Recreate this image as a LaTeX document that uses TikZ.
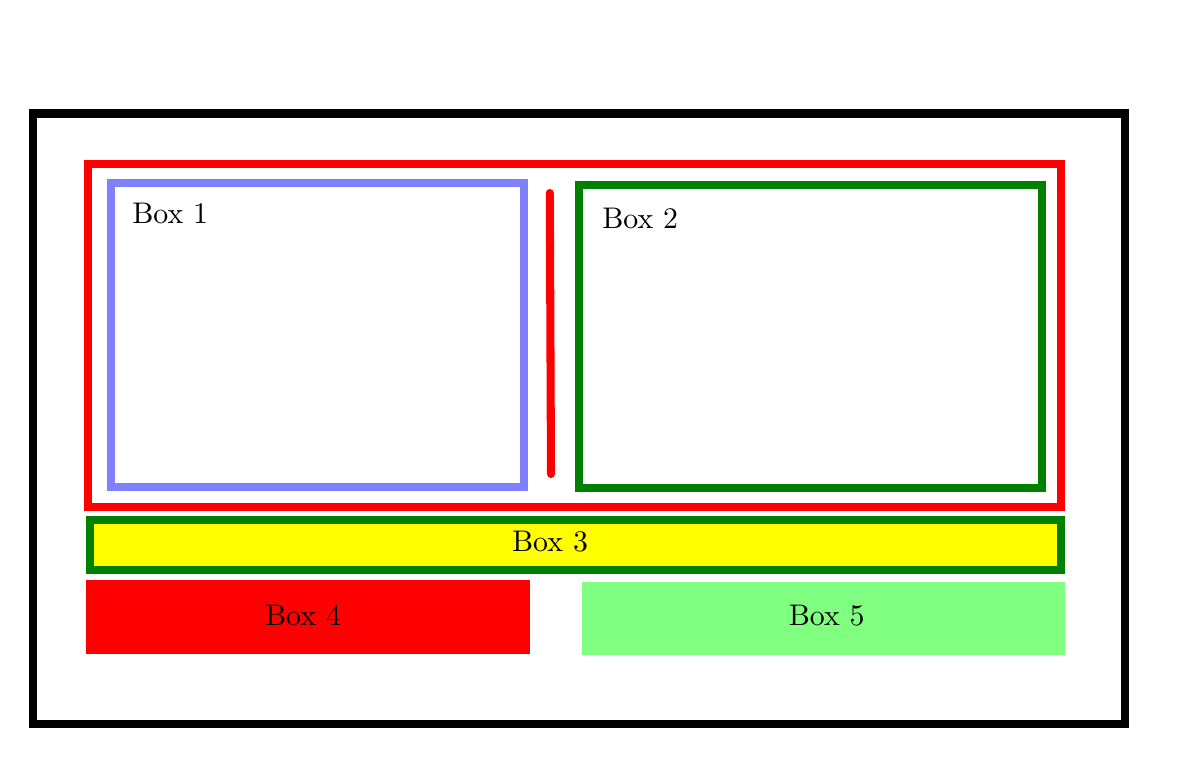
\documentclass[tikz,border=0pt]{standalone}
\usepackage{xcolor}
\usepackage{tikz}
\usetikzlibrary{positioning}
\definecolor{boxblue}{HTML}{8080FF}
\definecolor{boxgreen}{HTML}{008000}
\definecolor{boxlight}{HTML}{80FF80}
\definecolor{boxyellow}{HTML}{FFFF00}
\definecolor{boxred}{HTML}{FF0000}

\begin{document}
\begin{tikzpicture}[x=0.335pt,
				y=-0.335pt,
				frame/.style={draw, inner sep=0pt, line width=2.6pt},
				filled/.style={inner sep=0pt, draw=none},
				boxtext/.style={inner sep=0pt, font=\fontsize{10}{12}\selectfont}]
				\useasboundingbox (0,0) rectangle (1182,760);
				% frames
				\node at (579,418.75) (outer) [frame, black, line width=2.7pt, minimum width=365.8pt, minimum height=204.5pt] {};
				\node at (574.5,335.5) (group) [frame, boxred, minimum width=326pt, minimum height=114.9pt] {};
				\node at (317.5,335) (box1) [frame, boxblue, minimum width=138.4pt, minimum height=101.8pt] {};
				\node at (810.5,336.5) (box2) [frame, boxgreen, minimum width=155.1pt, minimum height=101.5pt] {};
				\node at (575.5,545) (box3) [frame, draw=boxgreen, fill=boxyellow, line width=2.7pt, minimum width=325.3pt, minimum height=16.75pt] {};
				\node at (308,617) (box4) [filled, fill=boxred, minimum width=148.7pt, minimum height=24.8pt] {};
				\node at (823.5,618.4) (box5) [filled, fill=boxlight, minimum width=161.8pt, minimum height=24.4pt] {};
				% divider
				\coordinate (divtop) at (549.8,193);
				\coordinate (divbot) at (551,474);
				\draw[boxred, line width=2.7pt, line cap=round] (divtop) -- (divbot);
				% texts
				\node at (131.7,224) (lbl1) [boxtext, anchor=base west] {Box 1};
				\node at (601.7,228.3) (lbl2) [boxtext, anchor=base west] {Box 2};
				\node at (550,551.7) (lbl3) [boxtext, anchor=base] {Box 3};
				\node at (303,625.7) (lbl4) [boxtext, anchor=base] {Box 4};
				\node at (826.7,625.7) (lbl5) [boxtext, anchor=base] {Box 5};
\end{tikzpicture}
\end{document}
